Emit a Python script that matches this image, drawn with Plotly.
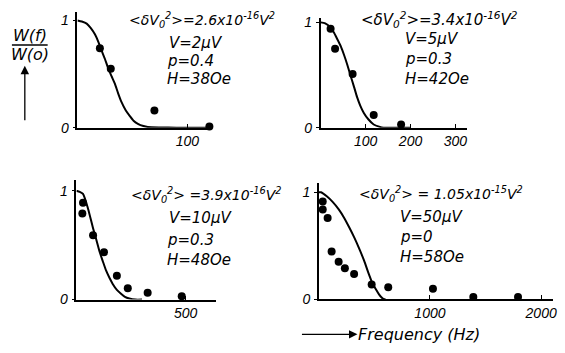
import plotly.graph_objects as go

W, H = 565, 353
FONT = "DejaVu Sans"
TICKFONT = "Liberation Sans"

# ---------------- data ----------------
# Panel 1: V=2uV
p1_pts_f = [20.4, 30.3, 70, 120]
p1_pts_w = [0.74, 0.55, 0.16, 0.01]
p1_fit_f = [0, 4, 8.4, 12, 15.9, 19, 21.9, 25, 27.9, 31, 34, 37, 40, 44, 47.5, 51, 55, 60, 64, 75, 90, 105, 121]
p1_fit_w = [1.0, 0.99, 0.97, 0.93, 0.87, 0.80, 0.72, 0.64, 0.555, 0.48, 0.41, 0.32, 0.24, 0.16, 0.11, 0.065, 0.036, 0.015, 0.006, 0.002, 0.0, 0.0, 0.0]

# Panel 2: V=5uV
p2_pts_f = [22, 32, 71, 118, 179]
p2_pts_w = [0.94, 0.75, 0.51, 0.12, 0.03]
p2_fit_f = [0, 10, 22, 30, 37, 45, 52, 59, 66, 74, 81, 88, 96, 106, 118, 130, 140, 160, 200]
p2_fit_w = [1.0, 0.99, 0.95, 0.90, 0.84, 0.77, 0.69, 0.60, 0.50, 0.39, 0.29, 0.21, 0.14, 0.08, 0.03, 0.01, 0.0, 0.0, 0.0]

# Panel 3: V=10uV
p3_pts_f = [30, 27, 76, 126, 185, 235, 326, 482]
p3_pts_w = [0.89, 0.79, 0.59, 0.435, 0.22, 0.105, 0.063, 0.03]
p3_fit_f = [0, 15, 30, 53, 76, 91, 106, 121, 136, 151, 166, 185, 204, 222, 242, 270, 300]
p3_fit_w = [1.0, 0.99, 0.97, 0.835, 0.655, 0.55, 0.44, 0.35, 0.265, 0.20, 0.144, 0.09, 0.054, 0.025, 0.01, 0.0, 0.0]

# Panel 4: V=50uV
p4_pts_f = [36, 36, 80, 116, 179, 235, 318, 476, 625, 1027, 1390, 1792]
p4_pts_w = [0.915, 0.84, 0.76, 0.445, 0.35, 0.29, 0.236, 0.136, 0.11, 0.097, 0.02, 0.02]
p4_fit_f = [0, 21, 75, 125, 180, 229, 275, 318, 365, 408, 445, 482, 515, 542, 566, 586, 600]
p4_fit_w = [1.0, 1.0, 0.96, 0.91, 0.84, 0.76, 0.67, 0.58, 0.47, 0.36, 0.25, 0.15, 0.09, 0.045, 0.015, 0.0, 0.0]

p1_text = ["&lt;δV<sub>0</sub><sup>2</sup>&gt;=2.6x10<sup>-16</sup>V<sup>2</sup>", "V=2μV", "p=0.4", "H=38Oe"]
p2_text = ["&lt;δV<sub>0</sub><sup>2</sup>&gt;=3.4x10<sup>-16</sup>V<sup>2</sup>", "V=5μV", "p=0.3", "H=42Oe"]
p3_text = ["&lt;δV<sub>0</sub><sup>2</sup>&gt; =3.9x10<sup>-16</sup>V<sup>2</sup>", "V=10μV", "p=0.3", "H=48Oe"]
p4_text = ["&lt;δV<sub>0</sub><sup>2</sup>&gt; = 1.05x10<sup>-15</sup>V<sup>2</sup>", "V=50μV", "p=0", "H=58Oe"]

p1_xticks = [100]
p2_xticks = [100, 200, 300]
p3_xticks = [500]
p4_xticks = [1000, 2000]

# ---------------- layout helpers (pixel -> paper) ----------------
def px(x):
    return x / W

def py(y):
    return 1 - y / H

panels = [
    (p1_pts_f, p1_pts_w, p1_fit_f, p1_fit_w, (78, 212), (8, 128), 121, 1.081, p1_xticks, p1_text,
     [(128, 17), (168, 40), (166, 59), (166, 78)], 14),
    (p2_pts_f, p2_pts_w, p2_fit_f, p2_fit_w, (323, 470), (15, 128), 325, 1.037, p2_xticks, p2_text,
     [(362, 16), (406, 36), (406, 57), (406, 78)], 15),
    (p3_pts_f, p3_pts_w, p3_fit_f, p3_fit_w, (77, 218), (182, 306), 641, 1.10, p3_xticks, p3_text,
     [(130, 198), (168, 222), (166, 244), (166, 265)], 14),
    (p4_pts_f, p4_pts_w, p4_fit_f, p4_fit_w, (321, 557), (185, 305.5), 2107, 1.09, p4_xticks, p4_text,
     [(360, 197), (401, 220), (401, 241), (401, 262)], 14),
]

fig = go.Figure()
annotations = []
layout_axes = {}
tickfont = dict(family=TICKFONT, size=14, color="black", style="italic")

for i, (pf, pw, ff, fw, xd, yd, xr, yr, xt, txt, tpos, fs1) in enumerate(panels, start=1):
    xa = "x" if i == 1 else f"x{i}"
    ya = "y" if i == 1 else f"y{i}"
    fig.add_trace(go.Scatter(x=ff, y=fw, mode="lines", line=dict(color="black", width=2, shape="spline", smoothing=0.6),
                             xaxis=xa, yaxis=ya, showlegend=False, cliponaxis=False, hoverinfo="skip"))
    fig.add_trace(go.Scatter(x=pf, y=pw, mode="markers", marker=dict(color="black", size=8),
                             xaxis=xa, yaxis=ya, showlegend=False, cliponaxis=False))
    xk = "xaxis" if i == 1 else f"xaxis{i}"
    yk = "yaxis" if i == 1 else f"yaxis{i}"
    layout_axes[xk] = dict(domain=[px(xd[0]), px(xd[1])], range=[0, xr], anchor=ya,
                           showline=True, linecolor="black", linewidth=1.5, showgrid=False, zeroline=False,
                           tickmode="array", tickvals=xt, ticks="inside", ticklen=4, tickcolor="black",
                           tickwidth=1.2, tickfont=tickfont, fixedrange=True)
    layout_axes[yk] = dict(domain=[py(yd[1]), py(yd[0])], range=[0, yr], anchor=xa,
                           showline=True, linecolor="black", linewidth=1.5, showgrid=False, zeroline=False,
                           tickmode="array", tickvals=[0, 1], ticks="outside", ticklen=3, tickcolor="black",
                           tickwidth=1.2, tickfont=tickfont, ticklabelstandoff=1, fixedrange=True)
    for j, (t, (tx, ty)) in enumerate(zip(txt, tpos)):
        size = fs1 if j == 0 else 15
        annotations.append(dict(text=t, x=px(tx), y=py(ty), xref="paper", yref="paper",
                                xanchor="left", yanchor="middle", showarrow=False,
                                font=dict(family=FONT, size=size, color="black", style="italic")))

# y label fraction W(f)/W(o)
annotations.append(dict(text="W(f)", x=px(30), y=py(33), xref="paper", yref="paper", xanchor="center",
                        yanchor="middle", showarrow=False, font=dict(family=FONT, size=16, color="black", style="italic")))
annotations.append(dict(text="W(o)", x=px(30), y=py(52), xref="paper", yref="paper", xanchor="center",
                        yanchor="middle", showarrow=False, font=dict(family=FONT, size=16, color="black", style="italic")))
# up arrow
annotations.append(dict(x=px(25), y=py(64), ax=0, ay=56, xref="paper", yref="paper",
                        axref="pixel", ayref="pixel", text="", showarrow=True, arrowhead=2, arrowsize=1.3,
                        arrowwidth=1.3, arrowcolor="black"))
# x label with arrow
annotations.append(dict(text="Frequency (Hz)", x=px(359), y=py(342), xref="paper", yref="paper", xanchor="left",
                        yanchor="middle", showarrow=False, font=dict(family=FONT, size=16, color="black", style="italic")))
annotations.append(dict(x=px(360), y=py(342), ax=-57, ay=0, xref="paper", yref="paper",
                        axref="pixel", ayref="pixel", text="", showarrow=True, arrowhead=2, arrowsize=1.3,
                        arrowwidth=1.3, arrowcolor="black"))

fig.update_layout(width=W, height=H, margin=dict(l=0, r=0, t=0, b=0), autosize=False,
                  paper_bgcolor="white", plot_bgcolor="white",
                  font=dict(family=FONT, color="black"),
                  annotations=annotations,
                  shapes=[dict(type="line", xref="paper", yref="paper", x0=px(12), x1=px(48), y0=py(42.5), y1=py(42.5),
                               line=dict(color="black", width=1.5))],
                  **layout_axes)

fig.write_html("out.html", config={"displayModeBar": False},
               post_script="document.body.style.margin='0';document.body.style.overflow='hidden';")
